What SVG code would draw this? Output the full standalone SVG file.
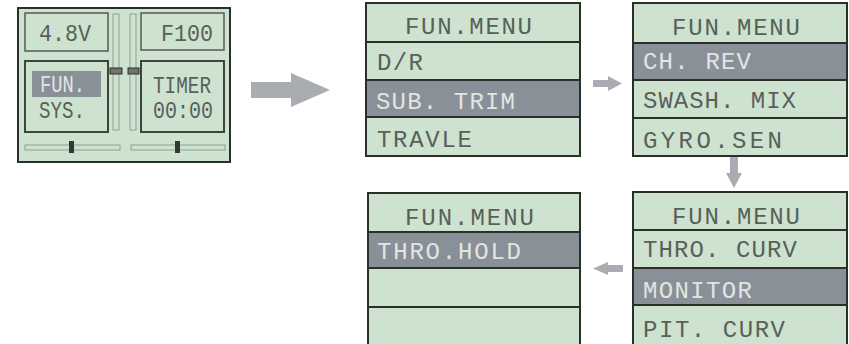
<svg xmlns="http://www.w3.org/2000/svg" width="849" height="344" viewBox="0 0 849 344">
<style>
.lcd{fill:#cde3cf;stroke:#2b2f2b;stroke-width:2}
.div{stroke:#2b2f2b;stroke-width:2}
.hl{fill:#8a9098}
.t{font-family:"Liberation Mono","DejaVu Sans Mono",monospace;font-size:24px;fill:#596059}
.th{font-family:"Liberation Mono","DejaVu Sans Mono",monospace;font-size:24px;fill:#e2e6e2}
.box{fill:#cde3cf;stroke:#555a55;stroke-width:1.5}
.box2{fill:#cde3cf;stroke:#3f443f;stroke-width:2}
.bar{fill:#cde3cf;stroke:#8fa091;stroke-width:1}
.arr{fill:#a9adb2}
</style>
<rect width="849" height="344" fill="#ffffff"/>
<g id="device">
<rect x="18" y="8" width="212" height="154" class="lcd"/>
<rect x="25" y="13" width="83" height="38" class="box"/>
<rect x="141" y="13" width="83" height="37" class="box"/>
<rect x="113" y="14" width="6" height="116" class="bar"/>
<rect x="130" y="14" width="6" height="116" class="bar"/>
<rect x="25" y="61" width="83" height="71" class="box2"/>
<rect x="141" y="61" width="83" height="71" class="box2"/>
<rect x="110" y="68" width="12" height="6" fill="#6f746f" stroke="#2b2f2b" stroke-width="1"/>
<rect x="128" y="68" width="11" height="6" fill="#6f746f" stroke="#2b2f2b" stroke-width="1"/>
<rect x="25" y="145" width="95" height="5" class="bar"/>
<rect x="131" y="145" width="94" height="5" class="bar"/>
<rect x="69" y="141" width="5" height="12" fill="#333833"/>
<rect x="175" y="141" width="5" height="12" fill="#333833"/>
<rect x="32" y="71" width="69" height="26" class="hl"/>
<text x="39" y="41" class="t" font-size="20" textLength="52" lengthAdjust="spacingAndGlyphs">4.8V</text>
<text x="161" y="41" class="t" font-size="20" textLength="52" lengthAdjust="spacingAndGlyphs">F100</text>
<text x="40" y="92" class="th" font-size="21" textLength="45" lengthAdjust="spacingAndGlyphs">FUN.</text>
<text x="39" y="118" class="t" font-size="20" textLength="46" lengthAdjust="spacingAndGlyphs">SYS.</text>
<text x="153" y="93" class="t" font-size="21" textLength="58" lengthAdjust="spacingAndGlyphs">TIMER</text>
<text x="153" y="118" class="t" font-size="20" textLength="60" lengthAdjust="spacingAndGlyphs">00:00</text>
</g>
<g id="menu1">
<rect x="366" y="3" width="214" height="153" class="lcd"/>
<rect x="367" y="80" width="212" height="37" class="hl"/>
<line x1="366" y1="42" x2="580" y2="42" class="div"/>
<line x1="366" y1="80" x2="580" y2="80" class="div"/>
<line x1="366" y1="117" x2="580" y2="117" class="div"/>
<text x="405" y="34" class="t" textLength="127" lengthAdjust="spacing">FUN.MENU</text>
<text x="377" y="70" class="t" textLength="46" lengthAdjust="spacing">D/R</text>
<text x="376" y="109" class="th" textLength="139" lengthAdjust="spacing">SUB. TRIM</text>
<text x="377" y="147" class="t" textLength="95" lengthAdjust="spacing">TRAVLE</text>
</g>
<g id="menu2">
<rect x="633" y="3" width="214" height="153" class="lcd"/>
<rect x="634" y="43" width="212" height="37" class="hl"/>
<line x1="633" y1="43" x2="847" y2="43" class="div"/>
<line x1="633" y1="80" x2="847" y2="80" class="div"/>
<line x1="633" y1="118" x2="847" y2="118" class="div"/>
<text x="672" y="35" class="t" textLength="128" lengthAdjust="spacing">FUN.MENU</text>
<text x="643" y="69" class="th" textLength="108" lengthAdjust="spacing">CH. REV</text>
<text x="643" y="108" class="t" textLength="153" lengthAdjust="spacing">SWASH. MIX</text>
<text x="643" y="148" class="t" textLength="139" lengthAdjust="spacing">GYRO.SEN</text>
</g>
<g id="menu3">
<rect x="368" y="193" width="212" height="152" class="lcd"/>
<rect x="369" y="232" width="210" height="36" class="hl"/>
<line x1="368" y1="232" x2="580" y2="232" class="div"/>
<line x1="368" y1="268" x2="580" y2="268" class="div"/>
<line x1="368" y1="307" x2="580" y2="307" class="div"/>
<text x="405" y="225" class="t" textLength="129" lengthAdjust="spacing">FUN.MENU</text>
<text x="377" y="259" class="th" textLength="144" lengthAdjust="spacing">THRO.HOLD</text>
</g>
<g id="menu4">
<rect x="633" y="192" width="214" height="153" class="lcd"/>
<rect x="634" y="268" width="212" height="37" class="hl"/>
<line x1="633" y1="230" x2="847" y2="230" class="div"/>
<line x1="633" y1="268" x2="847" y2="268" class="div"/>
<line x1="633" y1="305" x2="847" y2="305" class="div"/>
<text x="672" y="224" class="t" textLength="128" lengthAdjust="spacing">FUN.MENU</text>
<text x="643" y="257" class="t" textLength="154" lengthAdjust="spacing">THRO. CURV</text>
<text x="643" y="298" class="th" textLength="109" lengthAdjust="spacing">MONITOR</text>
<text x="643" y="337" class="t" textLength="142" lengthAdjust="spacing">PIT. CURV</text>
</g>
<g id="connectors">
<polygon class="arr" points="251,82 291,82 291,73 330,90 291,107 291,98 251,98"/>
<polygon class="arr" points="593,80 608,80 608,76 622,83.5 608,91 608,87 593,87"/>
<polygon class="arr" points="730,157 738,157 738,173 742,173 734,188 726,173 730,173"/>
<polygon class="arr" points="623,265 608,265 608,262 593,268.5 608,275 608,272 623,272"/>
</g>
</svg>
